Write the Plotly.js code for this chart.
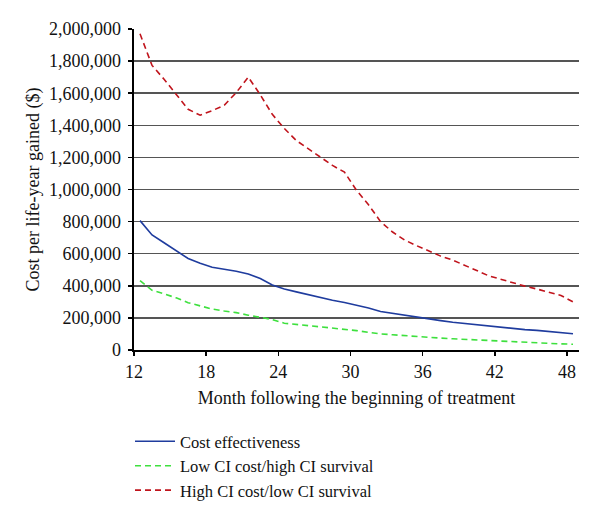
<!DOCTYPE html>
<html>
<head>
<meta charset="utf-8">
<script src="https://cdn.plot.ly/plotly-3.0.1.min.js"></script>
<style>html,body{margin:0;padding:0;background:#fff;}#chart{width:600px;height:517px;}</style>
</head>
<body>
<div id="chart"></div>
<script>
// Months following the beginning of treatment (categories)
var months = [12,13,14,15,16,17,18,19,20,21,22,23,24,25,26,27,28,29,30,31,32,33,34,35,36,37,38,39,40,41,42,43,44,45,46,47,48];
var tickMonths = [12,18,24,30,36,42,48];

// Cost per life-year gained ($)
var costEffectiveness = [806000,717000,668000,620000,570000,540000,515000,503000,491000,473000,445000,405000,380000,362000,344000,327000,310000,296000,280000,262000,240000,228000,217000,205000,192000,183000,173000,165000,158000,150000,143000,134000,127000,122000,116000,110000,101000];
var lowCostHighSurv = [432000,372000,350000,325000,295000,275000,255000,243000,233000,217000,205000,190000,167000,160000,152000,145000,138000,130000,121000,110000,100000,95000,89000,83000,78000,74000,70000,66000,62000,58000,55000,51000,47000,44000,40000,38000,36000];
var highCostLowSurv = [1970000,1773000,1687000,1594000,1500000,1463000,1491000,1525000,1604000,1700000,1590000,1468000,1380000,1305000,1255000,1200000,1150000,1108000,995000,905000,800000,735000,685000,650000,615000,585000,560000,530000,495000,462000,440000,420000,398000,380000,360000,340000,300000];

var seriesNames = ["Cost effectiveness","Low CI cost/high CI survival","High CI cost/low CI survival"];
var xTitle = "Month following the beginning of treatment";
var yTitle = "Cost per life-year gained ($)";

var FONT = "Liberation Serif";

var traces = [
  {x: months, y: costEffectiveness, name: seriesNames[0], type: "scatter", mode: "lines",
   line: {color: "#1f3c9e", width: 1.6}},
  {x: months, y: lowCostHighSurv, name: seriesNames[1], type: "scatter", mode: "lines",
   line: {color: "#3ee03e", width: 1.6, dash: "6px,4px"}},
  {x: months, y: highCostLowSurv, name: seriesNames[2], type: "scatter", mode: "lines",
   line: {color: "#c0141c", width: 1.6, dash: "6px,4px"}}
];

var layout = {
  width: 600, height: 517,
  margin: {l: 134, r: 21, t: 29, b: 167, autoexpand: false},
  paper_bgcolor: "#fff", plot_bgcolor: "#fff",
  font: {family: FONT, size: 18, color: "#111"},
  showlegend: true,
  legend: {x: 130 / 600, xref: "container", xanchor: "left", yref: "container", y: 1 - 424/517, yanchor: "top", orientation: "v",
           font: {family: FONT, size: 16.5, color: "#111"}, itemwidth: 40, bgcolor: "rgba(0,0,0,0)"},
  xaxis: {
    range: [11.5, 48.5], automargin: false,
    tickmode: "array",
    tickvals: tickMonths.map(function(m){ return m - 0.5; }),
    ticktext: tickMonths.map(String),
    ticks: "outside", ticklen: 4, tickwidth: 1.5, tickcolor: "#000",
    showgrid: false, zeroline: false,
    showline: true, linecolor: "#000", linewidth: 2,
    tickfont: {family: FONT, size: 18, color: "#111"},
    title: {text: xTitle, font: {family: FONT, size: 18, color: "#111"}, standoff: 11}
  },
  yaxis: {
    range: [0, 2000000], automargin: false,
    dtick: 200000, tick0: 0,
    tickformat: ",d",
    ticks: "outside", ticklen: 4, tickwidth: 1.5, tickcolor: "#000",
    showgrid: true, gridcolor: "#555", gridwidth: 1.5,
    zeroline: false,
    showline: true, linecolor: "#000", linewidth: 2.5,
    ticklabelstandoff: 3,
    tickfont: {family: FONT, size: 18, color: "#111"}
  },
  annotations: [{
    text: yTitle, textangle: -90, showarrow: false,
    xref: "paper", yref: "paper", x: (33 - 134) / 445, y: 0.5,
    xanchor: "center", yanchor: "middle",
    font: {family: FONT, size: 18, color: "#111"}
  }]
};

Plotly.newPlot("chart", traces, layout, {displayModeBar: false, staticPlot: true});
</script>
</body>
</html>
